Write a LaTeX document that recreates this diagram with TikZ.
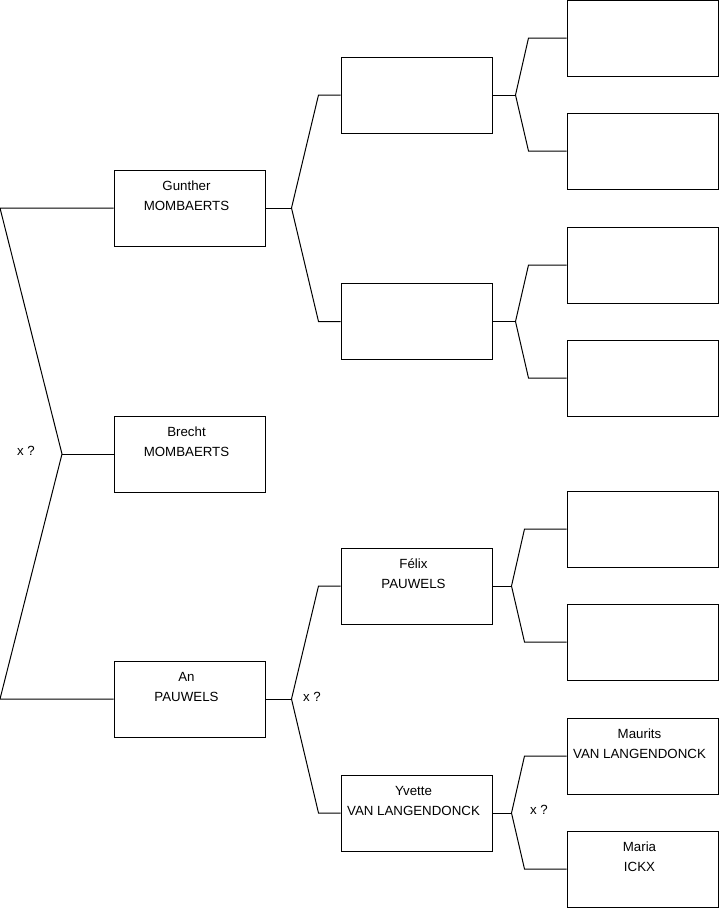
\documentclass[tikz,border=0pt]{standalone}
\usepackage{fontspec}
\setmainfont{Liberation Sans}
\usepackage{tikz}

% fork from a parent box to its two parents on the right
\newcommand\fork[5]{%
  \draw[link] (#1.east) -- ++(#4,0) coordinate (#1j);
  \draw[link] (#2.west) -- ([xshift=-#5]#2.west) -- (#1j) -- ([xshift=-#5]#3.west) -- (#3.west);}

\begin{document}
\begin{tikzpicture}[
  x=1pt,y=-1pt,
  person/.style={rectangle,draw=black,line width=1pt,minimum width=151pt,
                 minimum height=76pt,inner sep=0pt},
  fullname/.style={font=\fontsize{13.3}{20}\selectfont,align=center,inner sep=0pt},
  link/.style={line width=1pt,line join=miter},
  unk/.style={font=\fontsize{13.3}{16}\selectfont,inner sep=0pt}
]
  \useasboundingbox (0,0) rectangle (719,908);

  % generation 1
  \node[person] (gunther) at (189.5,208) {};
  \node[person] (brecht)  at (189.5,454) {};
  \node[person] (an)      at (189.5,699) {};
  % generation 2
  \node[person] (gpa)    at (416.5,95) {};
  \node[person] (gma)    at (416.5,321.5) {};
  \node[person] (felix)  at (416.5,586) {};
  \node[person] (yvette) at (416.5,813) {};
  % generation 3
  \node[person] (gpaA)    at (642.5,38) {};
  \node[person] (gpaB)    at (642.5,151) {};
  \node[person] (gmaA)    at (642.5,265) {};
  \node[person] (gmaB)    at (642.5,378) {};
  \node[person] (felixA)  at (642.5,529) {};
  \node[person] (felixB)  at (642.5,642) {};
  \node[person] (maurits) at (642.5,756) {};
  \node[person] (maria)   at (642.5,869) {};

  % names
  \node[fullname] at ([shift={(-3,-12)}]gunther.center) {Gunther\\MOMBAERTS};
  \node[fullname] at ([shift={(-3,-12)}]brecht.center)  {Brecht\\MOMBAERTS};
  \node[fullname] at ([shift={(-3,-12)}]an.center)      {An\\PAUWELS};
  \node[fullname] at ([shift={(-3,-12)}]felix.center)   {Félix\\PAUWELS};
  \node[fullname] at ([shift={(-3,-12)}]yvette.center)  {Yvette\\VAN LANGENDONCK};
  \node[fullname] at ([shift={(-3,-12)}]maurits.center) {Maurits\\VAN LANGENDONCK};
  \node[fullname] at ([shift={(-3,-12)}]maria.center)   {Maria\\ICKX};

  % siblings on the left
  \coordinate (edge) at (0,0);
  \coordinate (root) at (62,454);
  \draw[link] (gunther.west) -- (gunther.west -| edge) -- (root) -- (an.west -| edge) -- (an.west);
  \draw[link] (root) -- (brecht.west);
  \node[unk] (xroot) at (26,451) {x ?};

  % parents
  \fork{gunther}{gpa}{gma}{26}{22}
  \fork{an}{felix}{yvette}{26}{22}
  \fork{gpa}{gpaA}{gpaB}{23}{38}
  \fork{gma}{gmaA}{gmaB}{23}{38}
  \fork{felix}{felixA}{felixB}{19}{42}
  \fork{yvette}{maurits}{maria}{19}{42}
  \node[unk] (xan) at (312,697) {x ?};
  \node[unk] (xyvette) at (539,810) {x ?};
\end{tikzpicture}
\end{document}
